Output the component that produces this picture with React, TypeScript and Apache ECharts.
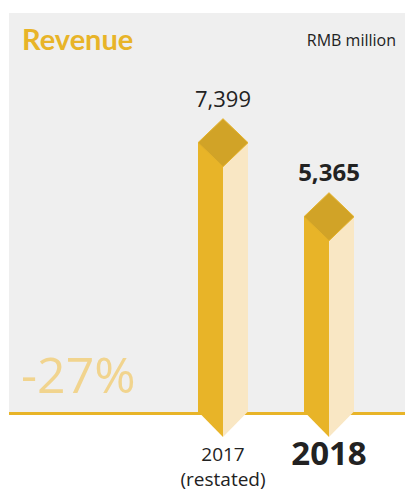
import React, { useEffect, useRef } from "react";
import * as echarts from "echarts";

const categories = ["2017\n(restated)", "2018"];
const revenue = [7399, 5365];
const title = "Revenue";
const unitLabel = "RMB million";
const changeLabel = "-27%";

export default function App() {
  const ref = useRef<HTMLDivElement>(null);
  useEffect(() => {
    if (!ref.current) return;
    const chart = echarts.init(ref.current, null, { renderer: "svg" });
    const last = revenue.length - 1;
    chart.setOption({
      animation: false,
      backgroundColor: "#ffffff",
      grid: { left: 170, width: 212, top: 48, bottom: 81 },
      xAxis: {
        type: "category",
        data: categories,
        axisLine: { show: false },
        axisTick: { show: false },
        axisLabel: {
          margin: 29,
          interval: 0,
          formatter: (val: string, idx: number) => {
            if (idx === last) return `{b|${val}}`;
            return val
              .split("\n")
              .map((s) => `{a|${s}}`)
              .join("\n");
          },
          rich: {
            a: { fontFamily: "Open Sans", fontSize: 19, lineHeight: 25.5, color: "#222" },
            b: { fontFamily: "Open Sans", fontSize: 33, fontWeight: "bold", lineHeight: 22, color: "#222" },
          },
        },
      },
      yAxis: { type: "value", min: 0, max: 10000, show: false },
      graphic: [
        { type: "rect", left: 9, top: 13, z: -10, shape: { width: 396, height: 399 }, style: { fill: "#efefef" } },
        { type: "line", z: -5, shape: { x1: 9, y1: 413.5, x2: 405, y2: 413.5 }, style: { stroke: "#e8b428", lineWidth: 3 } },
        { type: "text", left: 22, top: 24, style: { text: title, fontFamily: "Lato", fontWeight: "bold", fontSize: 29, fill: "#e8b428" } },
        { type: "text", right: 9, top: 32, style: { text: unitLabel, fontFamily: "Open Sans", fontSize: 16, fill: "#222" } },
        { type: "text", left: 21, top: 349, style: { text: changeLabel, fontFamily: "Open Sans", fontSize: 50, fill: "#f1d48e" } },
      ],
      series: [
        {
          type: "custom",
          z: 5,
          data: revenue.map((v, i) => [i, v]),
          encode: { x: 0, y: 1 },
          renderItem: (params: any, api: any) => {
            const i = params.dataIndex;
            const v = api.value(1);
            const top = api.coord([i, v]);
            const base = api.coord([i, 0]);
            const cx = top[0];
            const yS = top[1];
            const yB = base[1];
            const w = 25;
            const dark = "#e8b428";
            const light = "#f9e7c4";
            const isLast = i === last;
            return {
              type: "group",
              children: [
                { type: "rect", shape: { x: cx - w, y: yS, width: w, height: yB - yS }, style: { fill: dark } },
                { type: "rect", shape: { x: cx, y: yS, width: w, height: yB - yS }, style: { fill: light } },
                { type: "polygon", shape: { points: [[cx - w, yB - 0.5], [cx, yB - 0.5], [cx, yB + w]] }, style: { fill: dark } },
                { type: "polygon", shape: { points: [[cx, yB - 0.5], [cx + w, yB - 0.5], [cx, yB + w]] }, style: { fill: light } },
                {
                  type: "polygon",
                  shape: { points: [[cx, yS - w + 1], [cx + w, yS], [cx, yS + w - 1], [cx - w, yS]] },
                  style: { fill: "#d1a327", stroke: "#e6b32a", lineWidth: 1 },
                },
                {
                  type: "text",
                  style: {
                    text: echarts.format.addCommas(v),
                    x: cx,
                    y: yS - 45,
                    align: "center",
                    verticalAlign: "middle",
                    fontFamily: "Open Sans",
                    fontSize: isLast ? 24 : 22,
                    fontWeight: isLast ? "bold" : "normal",
                    fill: "#222",
                  },
                },
              ],
            };
          },
        },
      ],
    });
    return () => chart.dispose();
  }, []);
  return <div ref={ref} style={{ position: "fixed", left: 0, top: 0, width: 405, height: 493 }} />;
}
